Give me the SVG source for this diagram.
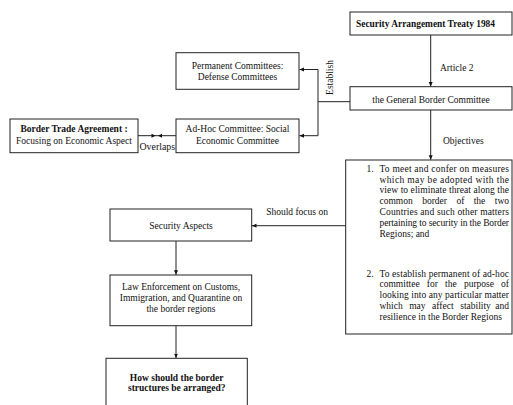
<svg xmlns="http://www.w3.org/2000/svg" width="513" height="405" viewBox="0 0 513 405">
<style>
text{font-family:"Liberation Serif","Times New Roman",serif;font-size:9.5px;fill:#111}
.b{font-weight:bold}
.m{text-anchor:middle}
.e{text-anchor:end}
.box{fill:#fff;stroke:#222;stroke-width:1}
.ln{fill:none;stroke:#222;stroke-width:1}
</style>
<defs>
<marker id="ah" markerWidth="5" markerHeight="5" refX="4.5" refY="2.5" orient="auto" markerUnits="userSpaceOnUse">
<path d="M0,0.5 L4.5,2.5 L0,4.5 Z" fill="#111"/>
</marker>
</defs>
<rect width="513" height="405" fill="#fff"/>
<g id="connectors">
<line class="ln" x1="430.7" y1="35" x2="430.7" y2="86.5" marker-end="url(#ah)"/>
<polyline class="ln" points="350,101.7 318,101.7"/>
<polyline class="ln" points="318,69.5 318,135.7"/>
<line class="ln" x1="318" y1="69.5" x2="299.5" y2="69.5" marker-end="url(#ah)"/>
<line class="ln" x1="318" y1="135.7" x2="299.5" y2="135.7" marker-end="url(#ah)"/>
<line class="ln" x1="138" y1="135.7" x2="176" y2="135.7"/>
<path d="M151.5,133.7 L155.5,135.7 L151.5,137.7 Z" fill="#111"/>
<path d="M162,133.7 L158,135.7 L162,137.7 Z" fill="#111"/>
<line class="ln" x1="430.7" y1="110" x2="430.7" y2="159.7" marker-end="url(#ah)"/>
<line class="ln" x1="346" y1="225.7" x2="252" y2="225.7" marker-end="url(#ah)"/>
<line class="ln" x1="176" y1="241" x2="176" y2="274.7" marker-end="url(#ah)"/>
<line class="ln" x1="176" y1="325.7" x2="176" y2="358" marker-end="url(#ah)"/>
<text x="440" y="70.5">Article 2</text>
<text transform="translate(333,77.5) rotate(-90)" class="m">Establish</text>
<text x="139.5" y="150" textLength="35.5" lengthAdjust="spacingAndGlyphs">Overlaps</text>
<text x="443" y="143.5">Objectives</text>
<text x="297" y="214.5" class="m">Should focus on</text>
</g>
<g id="treaty">
<rect class="box" x="350" y="12" width="162" height="23"/>
<text x="356" y="27" class="b" textLength="139" lengthAdjust="spacingAndGlyphs">Security Arrangement Treaty 1984</text>
</g>
<g id="gbc">
<rect class="box" x="350" y="86.7" width="162" height="23.3"/>
<text x="431" y="103.2" class="m">the General Border Committee</text>
</g>
<g id="permanent">
<rect class="box" x="176" y="52.7" width="123" height="36.6"/>
<text x="237.5" y="68.5" class="m">Permanent Committees:</text>
<text x="237.5" y="79.5" class="m">Defense Committees</text>
</g>
<g id="adhoc">
<rect class="box" x="176" y="119" width="123" height="33.7"/>
<text x="237.5" y="131.6" class="m">Ad-Hoc Committee: Social</text>
<text x="237.5" y="143.5" class="m">Economic Committee</text>
</g>
<g id="bta">
<rect class="box" x="10" y="119" width="128" height="33.7"/>
<text x="74" y="131.6" class="m b">Border Trade Agreement :</text>
<text x="74" y="143.5" class="m">Focusing on Economic Aspect</text>
</g>
<g id="objectives">
<rect class="box" x="345.7" y="160" width="166.3" height="174"/>
<text x="366.5" y="171.7">1.</text>
<text x="379.5" y="171.7" textLength="129.5" lengthAdjust="spacing">To meet and confer on measures</text>
<text x="379.5" y="182.6" textLength="129.5" lengthAdjust="spacing">which may be adopted with the</text>
<text x="379.5" y="193.4" textLength="129.5" lengthAdjust="spacing">view to eliminate threat along the</text>
<text y="204.3"><tspan x="379.5">common</tspan><tspan x="422.2">border</tspan><tspan x="456.4">of</tspan><tspan x="473.7">the</tspan></text>
<text x="509" y="204.3" class="e">two</text>
<text x="379.5" y="215.1" textLength="129.5" lengthAdjust="spacing">Countries and such other matters</text>
<text x="379.5" y="226" textLength="129.5" lengthAdjust="spacing">pertaining to security in the Border</text>
<text x="379.5" y="236.7">Regions; and</text>
<text x="366.5" y="276.7">2.</text>
<text x="379.5" y="276.7" textLength="129.5" lengthAdjust="spacing">To establish permanent of ad-hoc</text>
<text y="287.4"><tspan x="379.5">committee</tspan><tspan x="426.8">for</tspan><tspan x="445.1">the</tspan><tspan x="463.9">purpose</tspan></text>
<text x="509" y="287.4" class="e">of</text>
<text x="379.5" y="298.3" textLength="129.5" lengthAdjust="spacing">looking into any particular matter</text>
<text y="309"><tspan x="379.5">which</tspan><tspan x="409.2">may</tspan><tspan x="432.1">affect</tspan><tspan x="460.2">stability</tspan></text>
<text x="509" y="309" class="e">and</text>
<text x="379.5" y="319.5">resilience in the Border Regions</text>
</g>
<g id="security">
<rect class="box" x="110" y="209" width="141.7" height="32"/>
<text x="181" y="229" class="m">Security Aspects</text>
</g>
<g id="law">
<rect class="box" x="110" y="275" width="141.7" height="50.7"/>
<text x="181" y="290" class="m">Law Enforcement on Customs,</text>
<text x="181" y="301" class="m">Immigration, and Quarantine on</text>
<text x="181" y="311.7" class="m">the border regions</text>
</g>
<g id="how">
<rect class="box" x="106" y="358.3" width="141.3" height="60"/>
<text x="176.7" y="380.7" class="m b">How should the border</text>
<text x="176.7" y="391.2" class="m b">structures be arranged?</text>
</g>
</svg>
